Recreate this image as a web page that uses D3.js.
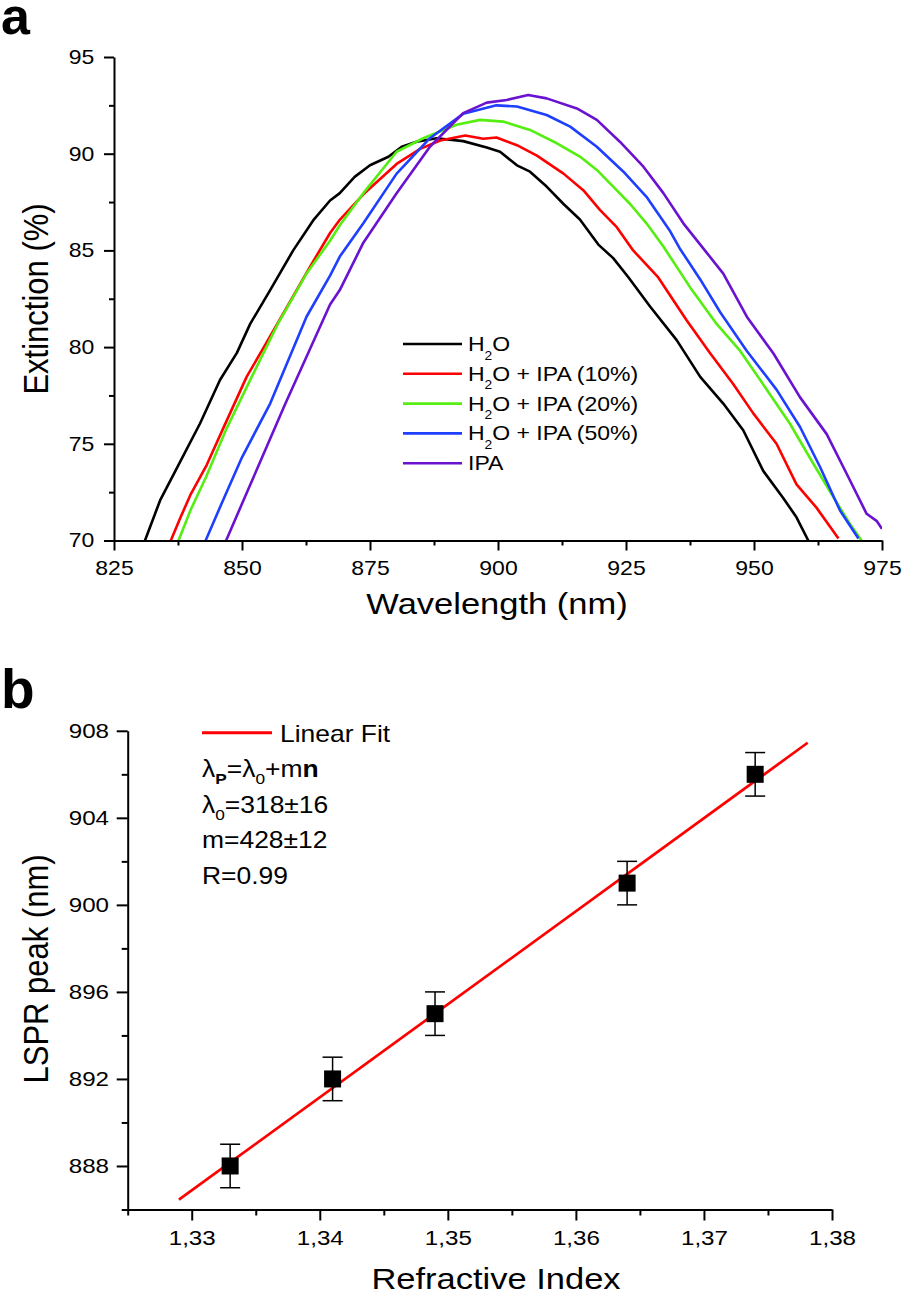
<!DOCTYPE html>
<html><head><meta charset="utf-8">
<script src="https://cdn.jsdelivr.net/npm/d3@7"></script>
<style>
html,body{margin:0;padding:0;background:#fff;}
svg{display:block;font-family:"Liberation Sans", Arial, sans-serif;}
</style></head><body>
<svg id="chart" width="904" height="1296"></svg>
<script>
// ---------------- DATA: panel a ----------------
const wavelengthTicks = [825, 850, 875, 900, 925, 950, 975];
const wavelengthMinor = [837.5, 862.5, 887.5, 912.5, 937.5, 962.5];
const extinctionTicks = [70, 75, 80, 85, 90, 95];
const extinctionMinor = [72.5, 77.5, 82.5, 87.5, 92.5];

const seriesNames = ["H2O", "H2O + IPA (10%)", "H2O + IPA (20%)", "H2O + IPA (50%)", "IPA"];
const seriesColors = ["#000000", "#ff0000", "#55ee11", "#1f3fff", "#6a12d0"];

const h2o = [[831.05,70],[834.0,72.07],[837.2,73.7],[841.8,76.05],[845.7,78.3],[849.0,79.7],[851.6,81.2],[855.5,82.95],[860.0,85.0],[863.9,86.55],[867.2,87.58],[869.1,87.96],[872,88.8],[875.0,89.4],[878.6,89.84],[881.2,90.36],[884.1,90.62],[888.0,90.8],[893.2,90.65],[897.8,90.32],[900.4,90.1],[903.7,89.4],[906.25,89.07],[909.5,88.3],[912.8,87.4],[916.0,86.6],[919.6,85.3],[922.5,84.6],[925.5,83.6],[929.7,82.1],[934.9,80.36],[939.5,78.46],[944.0,77.08],[947.9,75.7],[951.8,73.6],[955.7,72.2],[958.3,71.2],[960.6,70.0]];
const ipa10 = [[836.1,70],[838,71.2],[840,72.4],[843.1,73.9],[846.5,75.9],[850.9,78.46],[854.5,80.1],[858.1,81.75],[863.3,84.16],[867.2,85.9],[869.1,86.58],[873.7,87.9],[880.2,89.47],[884.8,90.25],[888.7,90.68],[893.6,90.94],[897.1,90.77],[899.7,90.84],[903.7,90.44],[907.6,89.9],[912.8,88.97],[916.7,88.1],[919.9,87.1],[923.2,86.2],[926.4,85.0],[931.3,83.6],[936.8,81.4],[941.4,79.7],[945.9,78.1],[949.9,76.56],[954.4,75.0],[958.3,72.9],[962.2,71.7],[966.5,70.1]];
const ipa20 = [[837.6,70],[840,71.6],[843,73.3],[847,75.8],[851.9,78.46],[857,81.2],[862.6,83.8],[867.2,85.5],[869.1,86.3],[873.7,87.96],[880.2,90.1],[885.4,90.8],[891.9,91.5],[896.5,91.75],[901.0,91.66],[906.25,91.23],[911.5,90.54],[916.0,89.85],[919.3,89.16],[922.5,88.3],[925.8,87.4],[929.0,86.4],[932.3,85.2],[937.5,83.1],[942.7,81.2],[947.3,79.8],[952.5,77.8],[957.0,76.05],[961.6,73.97],[965.5,72.24],[968.75,70.86],[971.0,70]];
const ipa50 = [[842.9,70],[846,71.9],[850,74.3],[855.5,77.08],[862.6,81.57],[867.2,83.7],[869.1,84.68],[873.7,86.4],[880.2,88.97],[886.7,90.8],[893.2,92.06],[899.7,92.5],[903.7,92.44],[909.5,92.0],[914.1,91.4],[919.3,90.36],[924.5,89.07],[929.0,87.77],[933.6,86.0],[935.5,85.1],[939.5,83.5],[943.4,81.8],[948.6,79.8],[954.4,77.8],[959.0,75.87],[962.9,73.8],[966.8,71.55],[970.4,70.1]];
const ipa = [[846.9,70],[850,71.9],[854.8,74.83],[858.5,77.1],[862.6,79.5],[867.2,82.2],[869.1,82.95],[873.7,85.4],[880.2,87.96],[886.7,90.36],[893.2,92.1],[897.8,92.64],[901.7,92.78],[905.9,93.04],[909.5,92.86],[915.4,92.34],[919.3,91.75],[923.8,90.62],[928.4,89.33],[932.3,87.96],[936.2,86.4],[940.4,85.0],[944.0,83.8],[948.6,81.57],[953.8,79.67],[959.0,77.4],[964.2,75.5],[968.1,73.45],[972.0,71.38],[974,71.0],[975,70.6]];
const spectra = [h2o, ipa10, ipa20, ipa50, ipa];

// ---------------- DATA: panel b ----------------
const refractiveIndex = [1.333, 1.341, 1.349, 1.364, 1.374];
const lsprPeak = [888, 892, 895, 901, 906];
const lsprError = [1, 1, 1, 1, 1];
const fitLine = [[1.329, 886.45], [1.3781, 907.45]];
const riTicks = [1.33, 1.34, 1.35, 1.36, 1.37, 1.38];
const riTickLabels = ["1,33", "1,34", "1,35", "1,36", "1,37", "1,38"];
const riMinor = [1.325, 1.335, 1.345, 1.355, 1.365, 1.375];
const peakTicks = [888, 892, 896, 900, 904, 908];
const peakMinor = [886, 890, 894, 898, 902, 906];

// ---------------- DRAW ----------------
const SX = 1.15;
const svg = d3.select("#chart");
svg.append("rect").attr("width", 904).attr("height", 1296).attr("fill", "#fff");

function stretch(sel) {
  sel.each(function () {
    const t = d3.select(this);
    const x = +(t.attr("x") || 0);
    t.attr("x", x / SX);
    const tr = t.attr("transform") || "";
    t.attr("transform", (tr + ` scale(${SX},1)`).trim());
  });
}
function styleAxis(g, fs) {
  g.selectAll("path.domain").attr("stroke", "#000").attr("stroke-width", 2);
  g.selectAll(".tick line").attr("stroke", "#000").attr("stroke-width", 2);
  g.selectAll(".tick text").attr("fill", "#000").style("font-size", fs + "px")
    .style("font-family", '"Liberation Sans", Arial, sans-serif');
  stretch(g.selectAll(".tick text"));
}

// ===== Panel a =====
const xA = d3.scaleLinear().domain([825, 975]).range([114, 882]);
const yA = d3.scaleLinear().domain([70, 95]).range([540.5, 57]);

svg.append("defs").append("clipPath").attr("id", "clipA")
  .append("rect").attr("x", xA(825)).attr("y", yA(95))
  .attr("width", xA(975) - xA(825)).attr("height", yA(70) - yA(95));

const lineA = d3.line().x(d => xA(d[0])).y(d => yA(d[1]));
const gCurves = svg.append("g").attr("clip-path", "url(#clipA)");
spectra.forEach((s, i) => {
  gCurves.append("path").attr("d", lineA(s)).attr("fill", "none")
    .attr("stroke", seriesColors[i]).attr("stroke-width", 2.6)
    .attr("stroke-linejoin", "round");
});

// minor ticks
svg.append("g").attr("transform", `translate(0,${yA(70)})`)
  .call(d3.axisBottom(xA).tickValues(wavelengthMinor).tickSize(5).tickFormat(""))
  .call(g => { g.select(".domain").remove(); g.selectAll("line").attr("stroke", "#000").attr("stroke-width", 2); });
svg.append("g").attr("transform", `translate(${xA(825)},0)`)
  .call(d3.axisLeft(yA).tickValues(extinctionMinor).tickSize(5).tickFormat(""))
  .call(g => { g.select(".domain").remove(); g.selectAll("line").attr("stroke", "#000").attr("stroke-width", 2); });
// major axes
svg.append("g").attr("transform", `translate(0,${yA(70)})`)
  .call(d3.axisBottom(xA).tickValues(wavelengthTicks).tickSize(10).tickSizeOuter(0).tickPadding(10.3).tickFormat(d3.format("d")))
  .call(g => styleAxis(g, 20));
svg.append("g").attr("transform", `translate(${xA(825)},0)`)
  .call(d3.axisLeft(yA).tickValues(extinctionTicks).tickSize(10).tickSizeOuter(0).tickPadding(9.7).tickFormat(d3.format("d")))
  .call(g => styleAxis(g, 20));

// axis titles a
svg.append("text").attr("transform", `translate(497,614)`).attr("text-anchor", "middle")
  .style("font-size", "30px").text("Wavelength (nm)").call(stretch);
svg.append("text").attr("transform", `translate(48,299) rotate(-90) scale(1,${SX})`)
  .attr("text-anchor", "middle").style("font-size", "31px").text("Extinction (%)");

// panel label a
svg.append("text").attr("x", 1).attr("y", 34).style("font-size", "52px").style("font-weight", "bold").text("a");

// legend a
const legA = svg.append("g");
seriesNames.forEach((name, i) => {
  const yy = 344 + i * 29.8;
  legA.append("line").attr("x1", 403).attr("x2", 462).attr("y1", yy).attr("y2", yy)
    .attr("stroke", seriesColors[i]).attr("stroke-width", 2.6);
  const t = legA.append("text").attr("transform", `translate(468,${yy + 7})`).style("font-size", "20px");
  if (name.startsWith("H2O")) {
    t.append("tspan").text("H");
    t.append("tspan").attr("dy", 8.5).style("font-size", "12px").text("2");
    t.append("tspan").attr("dy", -8.5).text(name.slice(2));
  } else {
    t.text(name);
  }
  stretch(t);
});

// ===== Panel b =====
const xB = d3.scaleLinear().domain([1.325, 1.38]).range([127.7, 832]);
const yB = d3.scaleLinear().domain([886, 908]).range([1209.5, 730.8]);

svg.append("g").attr("transform", `translate(0,${yB(886)})`)
  .call(d3.axisBottom(xB).tickValues(riMinor).tickSize(6).tickFormat(""))
  .call(g => { g.select(".domain").remove(); g.selectAll("line").attr("stroke", "#000").attr("stroke-width", 2); });
svg.append("g").attr("transform", `translate(${xB(1.325)},0)`)
  .call(d3.axisLeft(yB).tickValues(peakMinor).tickSize(6).tickFormat(""))
  .call(g => { g.select(".domain").remove(); g.selectAll("line").attr("stroke", "#000").attr("stroke-width", 2); });
svg.append("g").attr("transform", `translate(0,${yB(886)})`)
  .call(d3.axisBottom(xB).tickValues(riTicks).tickSize(11).tickSizeOuter(0).tickPadding(9.6)
    .tickFormat((d, i) => riTickLabels[i]))
  .call(g => styleAxis(g, 21));
svg.append("g").attr("transform", `translate(${xB(1.325)},0)`)
  .call(d3.axisLeft(yB).tickValues(peakTicks).tickSize(11).tickSizeOuter(0).tickPadding(7.7).tickFormat(d3.format("d")))
  .call(g => styleAxis(g, 21));

svg.append("text").attr("transform", `translate(496,1289)`).attr("text-anchor", "middle")
  .style("font-size", "30px").text("Refractive Index").call(stretch);
svg.append("text").attr("transform", `translate(48,969) rotate(-90) scale(1,${SX})`)
  .attr("text-anchor", "middle").style("font-size", "31px").text("LSPR peak (nm)");

svg.append("text").attr("x", 1).attr("y", 708).style("font-size", "55px").style("font-weight", "bold").text("b");

// fit line
svg.append("path").attr("d", d3.line().x(d => xB(d[0])).y(d => yB(d[1]))(fitLine))
  .attr("fill", "none").attr("stroke", "#ff0000").attr("stroke-width", 2.7);

// error bars + squares
const pts = refractiveIndex.map((n, i) => ({ n, v: lsprPeak[i], e: lsprError[i] }));
const gPts = svg.append("g");
pts.forEach(p => {
  const cx = xB(p.n);
  gPts.append("line").attr("x1", cx).attr("x2", cx).attr("y1", yB(p.v - p.e)).attr("y2", yB(p.v + p.e))
    .attr("stroke", "#000").attr("stroke-width", 1.5);
  [p.v - p.e, p.v + p.e].forEach(v => {
    gPts.append("line").attr("x1", cx - 10).attr("x2", cx + 10).attr("y1", yB(v)).attr("y2", yB(v))
      .attr("stroke", "#000").attr("stroke-width", 1.5);
  });
  gPts.append("rect").attr("x", cx - 8.5).attr("y", yB(p.v) - 8.5).attr("width", 17).attr("height", 17).attr("fill", "#000");
});

// legend b
svg.append("line").attr("x1", 202).attr("x2", 272).attr("y1", 732.7).attr("y2", 732.7)
  .attr("stroke", "#ff0000").attr("stroke-width", 3);
svg.append("text").attr("transform", "translate(280,741.7)").style("font-size", "23px").text("Linear Fit").call(stretch);

const eq1 = svg.append("text").attr("transform", "translate(202,777.3)").style("font-size", "23px");
eq1.append("tspan").text("λ");
eq1.append("tspan").attr("dy", 7).style("font-size", "15px").style("font-weight", "bold").text("P");
eq1.append("tspan").attr("dy", -7).text("=λ");
eq1.append("tspan").attr("dy", 7).style("font-size", "15px").text("0");
eq1.append("tspan").attr("dy", -7).text("+m");
eq1.append("tspan").style("font-weight", "bold").text("n");
stretch(eq1);

const eq2 = svg.append("text").attr("transform", "translate(202,812.7)").style("font-size", "23px");
eq2.append("tspan").text("λ");
eq2.append("tspan").attr("dy", 7).style("font-size", "15px").text("0");
eq2.append("tspan").attr("dy", -7).text("=318±16");
stretch(eq2);

svg.append("text").attr("transform", "translate(202,848.3)").style("font-size", "23px").text("m=428±12").call(stretch);
svg.append("text").attr("transform", "translate(202,884)").style("font-size", "23px").text("R=0.99").call(stretch);
</script>
</body></html>
